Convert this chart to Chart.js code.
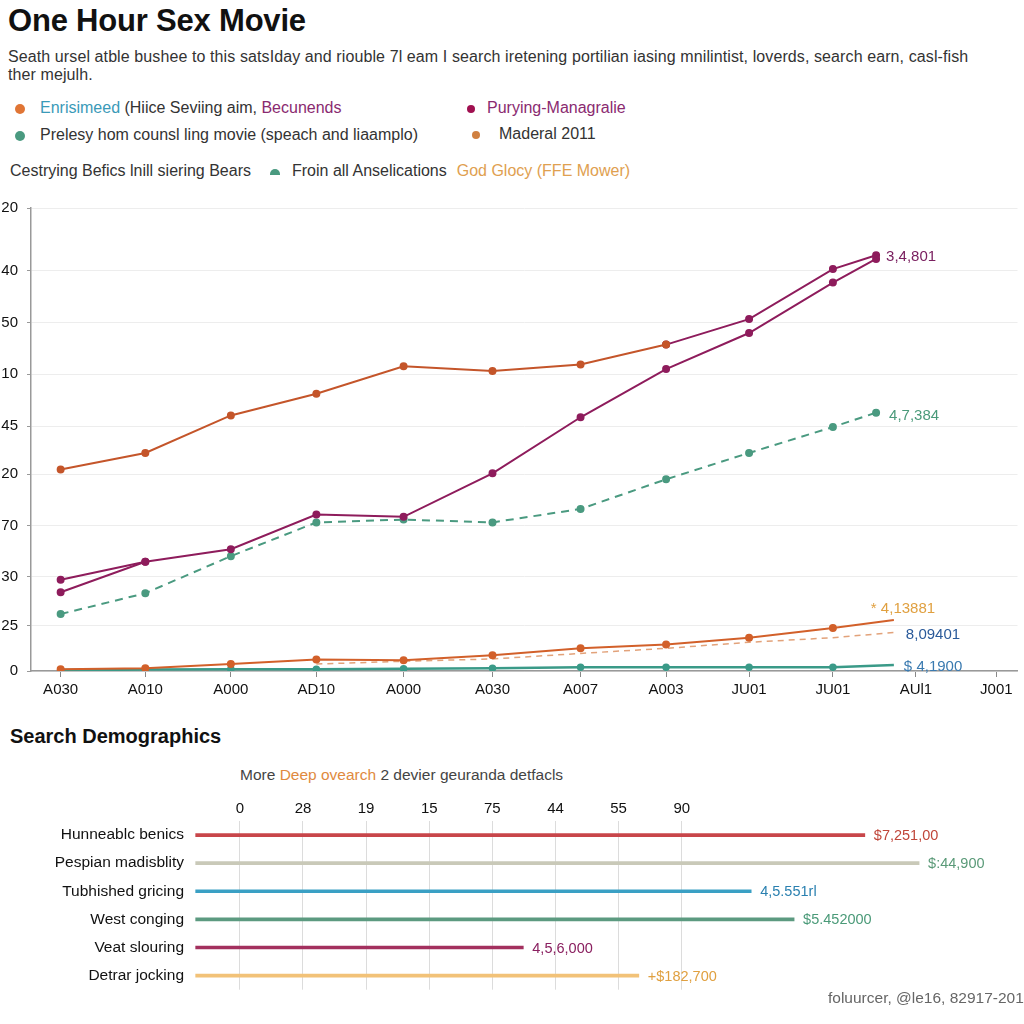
<!DOCTYPE html>
<html>
<head>
<meta charset="utf-8">
<script src="https://cdn.jsdelivr.net/npm/chart.js@4.4.1/dist/chart.umd.min.js"></script>
<style>
  html, body { margin: 0; padding: 0; background: #fff; }
  body { width: 1024px; height: 1024px; position: relative; overflow: hidden;
         font-family: "Liberation Sans", Arial, sans-serif; color: #222; }
  .abs { position: absolute; white-space: nowrap; }
  .dot { display: inline-block; width: 10px; height: 10px; border-radius: 50%; vertical-align: middle; }
  #title { left: 8px; top: 3px; font-size: 31px; font-weight: bold; color: #111; letter-spacing: -0.2px; }
  #subtitle { left: 8px; top: 48px; font-size: 16px; line-height: 18px; color: #333; white-space: normal; width: 990px; letter-spacing: 0.1px; }
  .leg { font-size: 16px; color: #333; line-height: 20px; }
  #demoTitle { left: 10px; top: 725px; font-size: 20px; font-weight: bold; color: #111; }
  #demoSub { left: 240px; top: 766px; font-size: 15.5px; color: #444; }
  #footer { left: 828px; top: 989px; font-size: 15.5px; color: #666; }
  #lineCanvas { position: absolute; left: 0; top: 190px; }
  #barCanvas { position: absolute; left: 0; top: 796px; }
</style>
</head>
<body>
<div id="title" class="abs">One Hour Sex Movie</div>
<div id="subtitle" class="abs">Seath ursel atble bushee to this satsIday and riouble 7l eam I search iretening portilian iasing mnilintist, loverds, search earn, casl-fish ther mejulh.</div>

<div class="abs leg" style="left:15px; top:98px;"><span class="dot" style="background:#e07535;"></span><span style="display:inline-block;width:15px;"></span><span style="color:#3a9ab8;">Enrisimeed</span> (Hiice Seviing aim, <span style="color:#8a2a70;">Becunends</span></div>
<div class="abs leg" style="left:467px; top:98px;"><span class="dot" style="background:#a01050; width:8px; height:8px;"></span><span style="display:inline-block;width:12px;"></span><span style="color:#8a2a70;">Purying-Managralie</span></div>
<div class="abs leg" style="left:15px; top:125px;"><span class="dot" style="background:#4a9a80;"></span><span style="display:inline-block;width:15px;"></span>Prelesy hom counsl ling movie (speach and liaamplo)</div>
<div class="abs leg" style="left:472px; top:124px;"><span class="dot" style="background:#d08040; width:8px; height:8px;"></span><span style="display:inline-block;width:19px;"></span>Maderal 2011</div>
<div class="abs leg" style="left:10px; top:161px;">Cestrying Befics lnill siering Bears<span style="display:inline-block;width:19px;"></span><span style="display:inline-block;width:10px;height:6px;border-radius:5px 5px 0 0;background:#4a9a80;vertical-align:middle;"></span><span style="display:inline-block;width:12px;"></span>Froin all Anselications<span style="display:inline-block;width:10px;"></span><span style="color:#e0a050;">God Glocy (FFE Mower)</span></div>

<canvas id="lineCanvas" width="1024" height="530"></canvas>

<div id="demoTitle" class="abs">Search Demographics</div>
<div id="demoSub" class="abs">More <span style="color:#e08a40;">Deep ovearch</span> 2 devier geuranda detfacls</div>

<canvas id="barCanvas" width="1024" height="209"></canvas>

<div id="footer" class="abs">foluurcer, @le16, 82917-201</div>

<script>
// ---- dados do gráfico de linhas ----
const xLabels = ["A030", "A010", "A000", "AD10", "A000", "A030", "A007", "A003", "JU01", "JU01", "AUl1", "J001"];
// posições das categorias no eixo (espaçamento irregular como no original)
const xTickPos = [0, 1, 2.01, 3.02, 4.05, 5.1, 6.14, 7.15, 8.13, 9.12, 10.1, 11.05];
const yTickPos = [0, 9.8, 20.4, 31.4, 42.5, 52.9, 64.1, 75.2, 86.4, 100];
const yTickText = ["0", "25", "30", "70", "20", "45", "10", "50", "40", "20"];

// posições x dos pontos
const xsUpper = [0, 1, 2.01, 3.02, 4.05, 5.1, 6.14, 7.15, 8.13, 9.12, 9.63];
const xsLower = [0, 1, 2.01, 3.02, 4.05, 5.1, 6.14, 7.15, 8.13, 9.12, 9.84];

const orangeTop = [43.5, 47.1, 55.2, 59.9, 65.8, 64.8, 66.2, 70.5, null, null, null];
const purpleA = [17.0, 23.6, 26.3, 33.8, 33.3, 42.7, 54.8, 65.2, 73.0, 83.9, 89.0];
const purpleB = [19.7, 23.6, null, null, null, null, null, 70.5, 76.0, 86.8, 89.8];
const greenDashed = [12.3, 16.8, 24.8, 32.1, 32.7, 32.1, 35.0, 41.4, 47.1, 52.7, 55.8];
const orangeLow = [0.4, 0.6, 1.5, 2.5, 2.3, 3.4, 4.9, 5.7, 7.2, 9.3, 11.0];
const peachDashed = [null, null, null, 1.5, 2.1, 2.6, 3.8, 4.9, 6.2, 7.2, 8.3];
const tealLow = [0.2, 0.3, 0.4, 0.4, 0.5, 0.6, 0.8, 0.8, 0.8, 0.8, 1.3];

const endLabels = ["3,4,801", "4,7,384", "* 4,13881", "8,09401", "$ 4,1900"];

// ---- dados do gráfico de barras ----
const demoCategories = ["Hunneablc benics", "Pespian madisblity", "Tubhished gricing", "West conging", "Veat slouring", "Detrar jocking"];
const demoValues = [9.9, 10.76, 8.1, 8.78, 4.49, 6.32];
const demoBase = -0.7;
const demoTickText = ["0", "28", "19", "15", "75", "44", "55", "90"];
const demoValueLabels = ["$7,251,00", "$:44,900", "4,5.551rl", "$5.452000", "4,5,6,000", "+$182,700"];

const FONT = "'Liberation Sans', Arial, sans-serif";

function pts(xs, ys) {
  return xs.map((x, i) => ({ x: x, y: ys[i] }));
}

const endLabelPlugin = {
  id: "endLabels",
  afterDatasetsDraw(chart) {
    const ctx = chart.ctx;
    chart.data.datasets.forEach((ds, i) => {
      if (!ds.endLabel) return;
      const meta = chart.getDatasetMeta(i);
      let el = null;
      for (let j = ds.data.length - 1; j >= 0; j--) {
        if (ds.data[j].y !== null) { el = meta.data[j]; break; }
      }
      if (!el) return;
      ctx.save();
      ctx.font = "15px " + FONT;
      ctx.fillStyle = ds.endLabelColor;
      ctx.textBaseline = "middle";
      ctx.fillText(ds.endLabel, el.x + ds.endDx, el.y + ds.endDy);
      ctx.restore();
    });
  },
};

new Chart(document.getElementById("lineCanvas").getContext("2d"), {
  type: "line",
  data: {
    datasets: [
      {
        data: pts(xsUpper, orangeTop),
        borderColor: "#c4552a", backgroundColor: "#c4552a",
        borderWidth: 2, pointRadius: 3,
      },
      {
        data: pts(xsUpper, purpleA),
        borderColor: "#8e1c5c", backgroundColor: "#8e1c5c",
        borderWidth: 2, pointRadius: 3,
      },
      {
        data: pts(xsUpper, purpleB),
        borderColor: "#8e1c5c", backgroundColor: "#8e1c5c",
        borderWidth: 2, pointRadius: 3,
        endLabel: endLabels[0], endLabelColor: "#7a2060", endDx: 10, endDy: 2,
      },
      {
        data: pts(xsUpper, greenDashed),
        borderColor: "#4a9a80", backgroundColor: "#4a9a80",
        borderWidth: 2, borderDash: [8, 6], pointRadius: 3,
        endLabel: endLabels[1], endLabelColor: "#4a9a7a", endDx: 13, endDy: 3,
      },
      {
        data: pts(xsLower, orangeLow),
        borderColor: "#d2602a", backgroundColor: "#d2602a",
        borderWidth: 2, pointRadius: (c) => (c.dataIndex === orangeLow.length - 1 ? 0 : 3),
        endLabel: endLabels[2], endLabelColor: "#e0a040", endDx: -23, endDy: -11,
      },
      {
        data: pts(xsLower, peachDashed),
        borderColor: "#e2a27a", backgroundColor: "#e2a27a",
        borderWidth: 1.5, borderDash: [6, 5], pointRadius: 0,
        endLabel: endLabels[3], endLabelColor: "#2a5a9a", endDx: 12, endDy: 2,
      },
      {
        data: pts(xsLower, tealLow),
        borderColor: "#3a9a88", backgroundColor: "#3a9a88",
        borderWidth: 2.5, pointRadius: (c) => (c.dataIndex === tealLow.length - 1 ? 0 : 2.5),
        endLabel: endLabels[4], endLabelColor: "#3a7ab0", endDx: 10, endDy: 2,
      },
    ],
  },
  options: {
    responsive: false,
    animation: false,
    spanGaps: false,
    layout: { padding: { top: 10, right: 2, left: 0, bottom: 0 } },
    plugins: { legend: { display: false }, tooltip: { enabled: false } },
    scales: {
      x: {
        type: "linear",
        min: -0.35,
        max: 11.3,
        afterBuildTicks: (scale) => { scale.ticks = xTickPos.map((v) => ({ value: v })); },
        afterFit: (scale) => { scale.height = 49; },
        ticks: {
          callback: (v, i) => xLabels[i],
          color: "#111",
          font: { size: 15, family: FONT },
          padding: 4,
          maxRotation: 0,
          autoSkip: false,
        },
        grid: { drawOnChartArea: false, drawTicks: true, tickLength: 6, color: "#888" },
        border: { color: "#999", width: 1.5 },
      },
      y: {
        min: 0,
        max: 100,
        afterBuildTicks: (scale) => { scale.ticks = yTickPos.map((v) => ({ value: v })); },
        afterFit: (scale) => { scale.width = 31; },
        ticks: {
          callback: (v, i) => yTickText[i],
          color: "#111",
          font: { size: 15, family: FONT },
          padding: 9,
          autoSkip: false,
        },
        grid: { color: "#ededed", tickLength: 4, tickColor: "#999" },
        border: { color: "#999", width: 1.5 },
      },
    },
  },
  plugins: [endLabelPlugin],
});

const barLabelPlugin = {
  id: "barLabels",
  afterDatasetsDraw(chart) {
    const ctx = chart.ctx;
    const ds = chart.data.datasets[0];
    const meta = chart.getDatasetMeta(0);
    meta.data.forEach((bar, i) => {
      ctx.save();
      ctx.font = "14.5px " + FONT;
      ctx.fillStyle = ds.labelColors[i];
      ctx.textBaseline = "middle";
      ctx.fillText(demoValueLabels[i], bar.x + 9, bar.y + 1);
      ctx.restore();
    });
  },
};

new Chart(document.getElementById("barCanvas").getContext("2d"), {
  type: "bar",
  data: {
    labels: demoCategories,
    datasets: [
      {
        data: demoValues,
        base: demoBase,
        backgroundColor: ["#c8464a", "#c9c9b8", "#3aa0c4", "#5c9a80", "#a3305e", "#f2c278"],
        labelColors: ["#c0463a", "#5a9a78", "#2a80b0", "#4a9a78", "#8a2060", "#e0a040"],
        barThickness: 3,
      },
    ],
  },
  options: {
    indexAxis: "y",
    responsive: false,
    animation: false,
    layout: { padding: { top: 0, right: 14, left: 0, bottom: 0 } },
    plugins: { legend: { display: false }, tooltip: { enabled: false } },
    scales: {
      x: {
        type: "linear",
        position: "top",
        min: -0.79,
        max: 12.2,
        afterBuildTicks: (scale) => { scale.ticks = demoTickText.map((_, i) => ({ value: i })); },
        afterFit: (scale) => { scale.height = 25; },
        ticks: {
          callback: (v, i) => demoTickText[i],
          color: "#111",
          font: { size: 15, family: FONT },
          padding: 3,
          maxRotation: 0,
          autoSkip: false,
        },
        grid: { color: "#dcdcdc", drawTicks: false },
        border: { display: false },
      },
      y: {
        afterFit: (scale) => { scale.width = 190; },
        ticks: {
          color: "#111",
          font: { size: 15.5, family: FONT },
          padding: 6,
        },
        grid: { display: false, drawTicks: false },
        border: { display: false },
      },
    },
  },
  plugins: [barLabelPlugin],
});
</script>
</body>
</html>
